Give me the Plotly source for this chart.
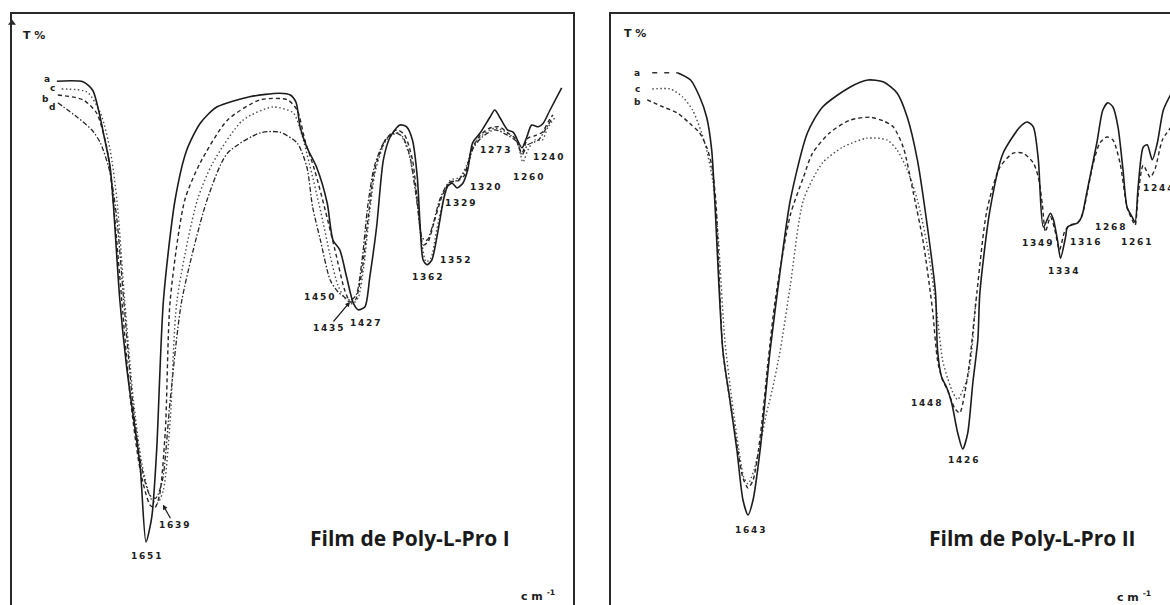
import plotly.graph_objects as go

# ---------------- Panel I : Film de Poly-L-Pro I ----------------
# wavenumber (cm-1) and transmittance (T %, arbitrary scale)
p1_a_wn = [1743, 1716, 1706, 1700, 1695, 1688, 1685, 1678, 1671, 1664, 1657, 1651, 1645, 1640, 1633, 1621, 1609,
           1595, 1578, 1544, 1513, 1502, 1496, 1492, 1485, 1475, 1464, 1458, 1451, 1444, 1437, 1432, 1425, 1420,
           1413, 1406, 1399, 1389, 1382, 1376, 1371, 1368, 1365, 1361, 1356, 1350, 1344, 1340, 1335, 1330, 1324,
           1319, 1314, 1306, 1296, 1291, 1286, 1278, 1272, 1263, 1258, 1253, 1246, 1241, 1234, 1222]
p1_a_t = [87.3, 87.2, 85.8, 82.5, 78.7, 73.0, 67.5, 50.8, 39.7, 31.3, 23.0, 10.5, 14.7, 25.8, 50.8, 67.5, 75.8,
          80.3, 83.0, 84.7, 85.3, 85.0, 83.7, 79.7, 76.3, 73.0, 67.0, 60.8, 59.2, 54.7, 50.3, 49.2, 49.7, 54.7,
          63.0, 74.2, 78.0, 80.0, 79.7, 77.5, 71.3, 63.0, 57.5, 56.7, 57.5, 62.0, 67.5, 69.7, 70.3, 69.5, 70.3,
          72.5, 77.0, 78.7, 81.3, 82.5, 81.3, 79.2, 78.8, 76.2, 78.0, 80.0, 79.7, 80.3, 82.5, 86.2]

p1_b_wn = [1742, 1716, 1702, 1691, 1685, 1676, 1667, 1657, 1647, 1642, 1637, 1631, 1626, 1611, 1595, 1567, 1533,
           1505, 1495, 1487, 1477, 1466, 1456, 1446, 1440, 1435, 1428, 1422, 1415, 1404, 1392, 1384, 1376, 1370,
           1365, 1360, 1353, 1345, 1337, 1329, 1322, 1315, 1306, 1296, 1286, 1278, 1270, 1263, 1257, 1250, 1242,
           1236, 1231]
p1_b_t = [85.0, 84.2, 82.0, 75.8, 67.5, 50.8, 34.2, 22.5, 16.7, 16.2, 18.3, 29.2, 50.8, 67.5, 73.7, 80.8, 84.2,
          84.2, 82.5, 77.5, 72.5, 65.8, 59.2, 52.5, 50.5, 50.8, 55.8, 64.2, 72.5, 77.5, 79.2, 78.3, 74.2, 65.8,
          60.0, 60.5, 64.2, 68.3, 70.5, 70.7, 71.7, 75.8, 78.3, 79.5, 79.7, 78.7, 77.8, 75.3, 77.8, 78.2, 78.8,
          80.5, 81.7]

p1_c_wn = [1738, 1712, 1698, 1688, 1681, 1673, 1664, 1655, 1645, 1639, 1633, 1626, 1619, 1598, 1582, 1551, 1520,
           1499, 1490, 1482, 1471, 1461, 1453, 1446, 1438, 1432, 1426, 1420, 1414, 1403, 1391, 1385, 1379, 1371,
           1366, 1362, 1357, 1351, 1344, 1337, 1327, 1320, 1313, 1304, 1291, 1278, 1268, 1262, 1257, 1250, 1242,
           1236, 1229]
p1_c_t = [86.0, 85.5, 82.0, 75.8, 67.5, 50.8, 34.2, 23.3, 17.5, 17.0, 19.2, 30.8, 50.8, 67.5, 73.7, 80.8, 83.0,
          82.0, 78.3, 73.3, 65.8, 58.3, 53.3, 51.2, 50.2, 51.2, 56.7, 65.8, 72.5, 77.5, 78.7, 77.5, 74.7, 67.5,
          60.0, 57.2, 57.8, 62.5, 67.5, 70.8, 71.3, 73.3, 76.7, 78.3, 79.5, 78.7, 77.2, 73.8, 75.8, 77.5, 77.5,
          79.7, 81.2]

p1_d_wn = [1742, 1722, 1707, 1698, 1688, 1681, 1674, 1665, 1656, 1647, 1641, 1634, 1626, 1614, 1588, 1567, 1533,
           1513, 1495, 1485, 1479, 1471, 1461, 1453, 1446, 1440, 1434, 1428, 1422, 1415, 1404, 1394, 1386, 1379,
           1371, 1366, 1361, 1355, 1348, 1339, 1329, 1321, 1313, 1304, 1291, 1278, 1268, 1263, 1257, 1246, 1239,
           1233]
p1_d_t = [83.7, 81.3, 79.2, 77.0, 72.0, 64.2, 50.8, 34.2, 23.3, 18.3, 17.8, 20.8, 34.2, 50.8, 67.5, 75.3, 78.7,
          78.8, 77.0, 73.0, 66.3, 60.8, 54.2, 52.2, 51.3, 50.8, 51.7, 57.5, 66.7, 73.3, 77.5, 78.7, 78.0, 75.0,
          66.7, 61.2, 60.8, 63.3, 67.5, 70.3, 70.8, 72.5, 76.2, 78.0, 79.2, 78.3, 77.2, 75.0, 76.7, 77.5, 79.2,
          80.8]

# ---------------- Panel II : Film de Poly-L-Pro II ----------------
p2_a_lead_wn = [1738, 1713]          # start of trace a, drawn as broken line
p2_a_lead_t = [88.7, 88.7]
p2_a_wn = [1713, 1700, 1691, 1684, 1679, 1676, 1668, 1661, 1654, 1648, 1643, 1638, 1631, 1626, 1621, 1611,
           1601, 1584, 1569, 1542, 1524, 1509, 1495, 1485, 1475, 1465, 1457, 1455, 1451, 1446, 1441, 1435, 1430,
           1425, 1420, 1415, 1413, 1403, 1390, 1373, 1366, 1360, 1355, 1350, 1343, 1340, 1336, 1333, 1328, 1326,
           1316, 1312, 1307, 1297, 1291, 1286, 1281, 1276, 1271, 1267, 1262, 1259, 1256, 1251, 1247, 1242, 1237,
           1231, 1224]
p2_a_t = [88.7, 87.5, 84.7, 81.3, 75.8, 67.5, 42.5, 34.2, 25.8, 17.5, 15.0, 17.5, 25.8, 34.2, 42.5, 55.8,
          67.5, 78.7, 83.0, 86.3, 87.5, 87.2, 85.3, 81.3, 74.2, 63.0, 52.0, 42.5, 38.0, 36.3, 33.7, 28.7, 26.0,
          28.7, 37.0, 44.2, 52.0, 65.8, 75.3, 79.7, 80.5, 79.7, 74.2, 63.0, 65.3, 64.2, 60.8, 57.8, 61.3, 63.0,
          63.7, 64.7, 68.7, 77.0, 82.5, 83.7, 83.0, 79.7, 72.5, 66.3, 64.7, 63.8, 69.7, 76.3, 76.7, 74.2, 77.0,
          82.5, 85.0]

p2_b_wn = [1743, 1727, 1713, 1701, 1691, 1684, 1679, 1675, 1668, 1661, 1654, 1648, 1643, 1638, 1634, 1629, 1623,
           1616, 1601, 1588, 1579, 1562, 1542, 1522, 1509, 1499, 1489, 1479, 1469, 1460, 1455, 1450, 1445, 1438,
           1433, 1428, 1423, 1416, 1406, 1393, 1380, 1370, 1360, 1355, 1351, 1348, 1343, 1339, 1334, 1329, 1324,
           1316, 1311, 1301, 1294, 1287, 1281, 1274, 1267, 1262, 1259, 1256, 1251, 1244, 1239, 1232, 1224]
p2_b_t = [84.2, 83.0, 82.0, 80.3, 78.7, 76.3, 73.3, 67.5, 42.5, 34.2, 26.7, 21.2, 19.5, 20.8, 24.2, 30.8, 40.8,
          50.8, 65.0, 71.3, 75.3, 78.7, 80.8, 81.3, 80.7, 79.7, 76.3, 68.7, 60.3, 49.2, 40.8, 37.5, 35.8, 32.8,
          32.0, 35.3, 40.8, 52.0, 65.8, 73.0, 75.3, 75.3, 73.7, 71.3, 66.7, 62.2, 64.7, 62.8, 59.2, 62.2, 63.3,
          63.7, 65.3, 73.3, 77.0, 78.0, 77.5, 73.7, 66.3, 64.2, 63.3, 68.3, 73.3, 71.3, 72.8, 77.5, 79.5]

p2_c_wn = [1738, 1720, 1708, 1698, 1689, 1684, 1678, 1673, 1666, 1659, 1652, 1647, 1643, 1637, 1631, 1625, 1619,
           1611, 1601, 1588, 1569, 1549, 1525, 1505, 1495, 1485, 1475, 1465, 1456, 1450, 1445, 1440, 1435, 1430,
           1425, 1421, 1417]
p2_c_t = [86.0, 86.0, 84.7, 82.5, 78.7, 75.8, 70.8, 62.5, 44.2, 34.2, 25.8, 21.2, 20.2, 22.5, 26.7, 31.7, 35.8,
          42.5, 53.3, 67.5, 73.7, 76.3, 77.8, 77.5, 75.8, 72.5, 67.5, 59.7, 49.2, 40.8, 37.8, 35.5, 34.2, 35.8,
          38.0, 42.5, 50.8]

# ---------------- Peak labels (text, wavenumber, T) ----------------
p1_labels = [("1651", 1651, 8.2), ("1450", 1472, 51.3), ("1427", 1425, 47.0), ("1362", 1361, 54.7),
             ("1352", 1332, 57.5), ("1329", 1327, 67.0), ("1320", 1301, 69.7), ("1273", 1291, 75.8),
             ("1260", 1257, 71.3), ("1240", 1236, 74.7)]
p1_arrow_labels = [("1639", 1633.5, 16.7, 11, 20), ("1435", 1440.5, 50.5, -22, 26)]
p2_labels = [("1643", 1641, 12.5), ("1426", 1430, 24.2), ("1448", 1466, 33.7), ("1349", 1356, 60.3),
             ("1334", 1330.5, 55.7), ("1316", 1309, 60.5), ("1268", 1284, 63.0), ("1261", 1258, 60.5)]
p2_edge_label = ("1244", 1253, 69.5)

p1_legend = [("a", 1753, 87.6), ("c", 1748, 86.2), ("b", 1755, 84.3), ("d", 1748, 83.0)]
p2_legend = [("a", 1753, 88.7), ("c", 1753, 86.0), ("b", 1753, 83.8)]

# ---------------- Figure ----------------
W, H = 1170, 605
INK = "#1c1c1c"
STYLE = {
    "a": dict(color=INK, width=1.6, dash="solid"),
    "a_lead": dict(color="#333333", width=1.4, dash="5px,7px"),
    "b": dict(color="#262626", width=1.4, dash="4px,3px"),
    "c": dict(color="#4a4a4a", width=1.4, dash="1.5px,2.5px"),
    "d": dict(color="#262626", width=1.3, dash="5px,2px,1.5px,2px"),
}

fig = go.Figure()

def add(wn, t, key, xa, ya):
    fig.add_trace(go.Scatter(x=wn, y=t, mode="lines", line=dict(shape="spline", smoothing=0.7, **STYLE[key]),
                             xaxis=xa, yaxis=ya, showlegend=False, hoverinfo="skip"))

add(p1_d_wn, p1_d_t, "d", "x", "y")
add(p1_c_wn, p1_c_t, "c", "x", "y")
add(p1_b_wn, p1_b_t, "b", "x", "y")
add(p1_a_wn, p1_a_t, "a", "x", "y")
add(p2_c_wn, p2_c_t, "c", "x2", "y2")
add(p2_b_wn, p2_b_t, "b", "x2", "y2")
add(p2_a_lead_wn, p2_a_lead_t, "a_lead", "x2", "y2")
add(p2_a_wn, p2_a_t, "a", "x2", "y2")

# arrow head on top of the T% axis of panel I
fig.add_trace(go.Scatter(x=[1789.3], y=[97.0], mode="markers", cliponaxis=False, showlegend=False,
                         hoverinfo="skip", marker=dict(symbol="triangle-up", size=7, color="#2a2a2a"),
                         xaxis="x", yaxis="y"))

ydom = [0, 591 / 605]
common_x = dict(showticklabels=False, ticks="", showgrid=False, zeroline=False, showline=True,
                side="top", linecolor="#2a2a2a", linewidth=1.6)
common_y = dict(showticklabels=False, ticks="", showgrid=False, zeroline=False, showline=True,
                linecolor="#2a2a2a", linewidth=1.6, range=[0, 98.5], domain=ydom)

fig.update_layout(
    width=W, height=H, margin=dict(l=0, r=0, t=0, b=0),
    paper_bgcolor="white", plot_bgcolor="white",
    xaxis=dict(domain=[12 / W, 573 / W], range=[1789.3, 1210.3], anchor="y", **common_x),
    yaxis=dict(anchor="x", mirror=True, **common_y),
    xaxis2=dict(domain=[611 / W, 1.0], range=[1778.9, 1224.4], anchor="y2", **common_x),
    yaxis2=dict(anchor="x2", **common_y),
)

num_font = dict(family="DejaVu Sans", size=9, color=INK, weight="bold")

def spaced(s):
    return "\u2009".join(s)

for txt, w, t in p1_labels:
    fig.add_annotation(x=w, y=t, xref="x", yref="y", text=spaced(txt), showarrow=False, font=num_font)
for txt, w, t, ax, ay in p1_arrow_labels:
    fig.add_annotation(x=w, y=t, xref="x", yref="y", text=spaced(txt), showarrow=True, ax=ax, ay=ay,
                       arrowhead=2, arrowsize=0.8, arrowwidth=1.2, arrowcolor=INK, font=num_font)
for txt, w, t in p2_labels:
    fig.add_annotation(x=w, y=t, xref="x2", yref="y2", text=spaced(txt), showarrow=False, font=num_font)
fig.add_annotation(x=p2_edge_label[1], y=p2_edge_label[2], xref="x2", yref="y2", text=spaced(p2_edge_label[0]),
                   showarrow=False, font=num_font, xanchor="left")

leg_font = dict(family="DejaVu Sans", size=9, color=INK, weight="bold")
for txt, w, t in p1_legend:
    fig.add_annotation(x=w, y=t, xref="x", yref="y", text=txt, showarrow=False, font=leg_font)
for txt, w, t in p2_legend:
    fig.add_annotation(x=w, y=t, xref="x2", yref="y2", text=txt, showarrow=False, font=leg_font)

def paper_text(px, py, text, font, xanchor="center"):
    fig.add_annotation(x=px / W, y=1 - py / H, xref="paper", yref="paper", text=text, showarrow=False,
                       xanchor=xanchor, yanchor="middle", font=font)

# axis titles
ttl_font = dict(family="DejaVu Sans", size=11, color=INK, weight="bold")
paper_text(21, 35, "T %", ttl_font, "left")
paper_text(622, 33, "T %", ttl_font, "left")
unit_font = dict(family="DejaVu Sans", size=11, color=INK, weight="bold")
paper_text(538, 595, "c m <sup>-1</sup>", unit_font)
paper_text(1134, 596, "c m <sup>-1</sup>", unit_font)

# panel titles
title_font = dict(family="Open Sans", size=21, color="#1a1a1a", weight="bold")
paper_text(410, 538, "Film de Poly-L-Pro I", title_font)
paper_text(1032, 538, "Film de Poly-L-Pro II", title_font)

fig.write_html("out.html", config={"displayModeBar": False},
               post_script="document.body.style.margin='0px';document.body.style.overflow='hidden';")
